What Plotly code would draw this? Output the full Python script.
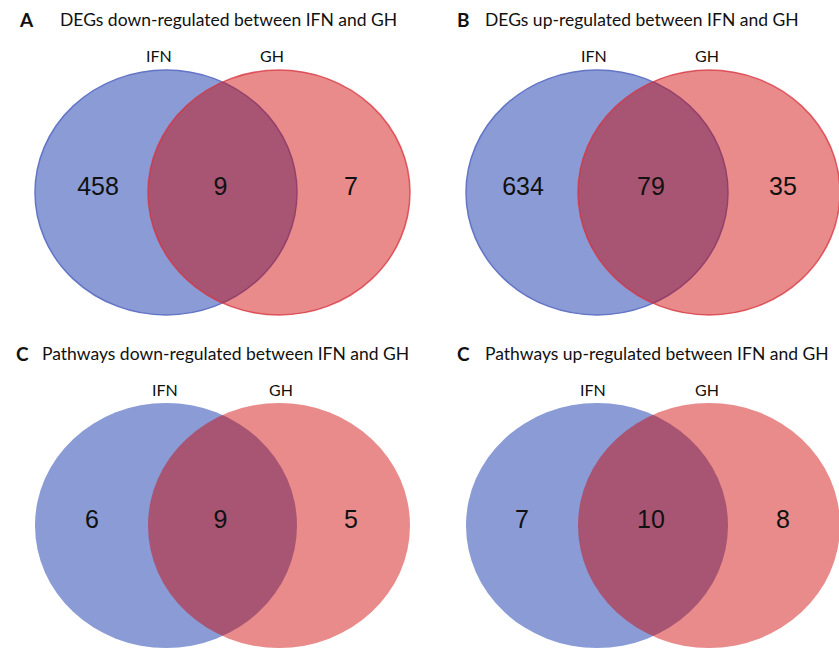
import plotly.graph_objects as go

# ---- data ----
panel_letters = ["A", "B", "C", "C"]
panel_titles = [
    "DEGs down-regulated between IFN and GH",
    "DEGs up-regulated between IFN and GH",
    "Pathways down-regulated between IFN and GH",
    "Pathways up-regulated between IFN and GH",
]
set_labels = ["IFN", "GH"]
only_ifn = [458, 634, 6, 7]
shared = [9, 79, 9, 10]
only_gh = [7, 35, 5, 8]

# ---- layout geometry (pixels in the 839x648 picture) ----
W, H = 839, 648
blue_cx = [166, 597, 166, 597]
red_cx = [279, 709, 279, 709]
cy = [192.5, 192.5, 525.5, 525.5]
rx, ry = 131, 122.5
outlined = [True, True, False, False]
letter_x = [17, 455, 14, 455]
title_x = [58, 483, 40, 483]
title_y = [19, 19, 353, 353]
label_y = [55, 55, 389, 389]
label_x = [(159, 272), (594, 707), (165, 281), (593, 707)]
num_dx = [(-68, 72), (-74, 74), (-74, 72), (-75, 74)]

BLUE = "#8a9bd6"
RED = "rgba(205,3,0,0.46)"
TFONT = "Lato, Open Sans, sans-serif"

fig = go.Figure()
shapes = []
annotations = []
for i in range(4):
    shapes.append(dict(
        type="circle", xref="x", yref="y", layer="below",
        x0=blue_cx[i] - rx, x1=blue_cx[i] + rx, y0=cy[i] - ry, y1=cy[i] + ry,
        fillcolor=BLUE,
        line=dict(color="#6475c6" if outlined[i] else BLUE, width=1.5 if outlined[i] else 0),
    ))
    shapes.append(dict(
        type="circle", xref="x", yref="y", layer="below",
        x0=red_cx[i] - rx, x1=red_cx[i] + rx, y0=cy[i] - ry, y1=cy[i] + ry,
        fillcolor=RED,
        line=dict(color="rgba(215,50,60,0.75)" if outlined[i] else "rgba(0,0,0,0)",
                  width=1.5 if outlined[i] else 0),
    ))
    annotations.append(dict(
        x=letter_x[i], y=title_y[i], xref="x", yref="y", text="<b>" + panel_letters[i] + "</b>",
        showarrow=False, xanchor="left", yanchor="middle",
        font=dict(family=TFONT, size=19, color="#111111"),
    ))
    annotations.append(dict(
        x=title_x[i], y=title_y[i], xref="x", yref="y", text=panel_titles[i],
        showarrow=False, xanchor="left", yanchor="middle",
        font=dict(family=TFONT, size=17.5, color="#111111"),
    ))
    for j, lab in enumerate(set_labels):
        annotations.append(dict(
            x=label_x[i][j], y=label_y[i], xref="x", yref="y", text=lab,
            showarrow=False, xanchor="center", yanchor="middle",
            font=dict(family=TFONT, size=16, color="#111111"),
        ))

xs, ys, txt = [], [], []
for i in range(4):
    xs += [blue_cx[i] + num_dx[i][0], (blue_cx[i] + red_cx[i]) / 2 - 2, red_cx[i] + num_dx[i][1]]
    ys += [cy[i] - 4] * 3
    txt += [str(only_ifn[i]), str(shared[i]), str(only_gh[i])]

fig.add_trace(go.Scatter(
    x=xs, y=ys, text=txt, mode="text", hoverinfo="skip",
    textfont=dict(family="Liberation Sans, Arial, sans-serif", size=25, color="#111111"),
    showlegend=False,
))

fig.update_layout(
    width=W, height=H, margin=dict(l=0, r=0, t=0, b=0),
    paper_bgcolor="white", plot_bgcolor="white",
    shapes=shapes, annotations=annotations,
    xaxis=dict(range=[0, W], visible=False, fixedrange=True),
    yaxis=dict(range=[H, 0], visible=False, fixedrange=True),
    showlegend=False,
)
fig.write_html(
    "out.html",
    config={"displayModeBar": False, "staticPlot": True},
    post_script="document.body.style.margin='0';document.body.style.overflow='hidden';",
)
